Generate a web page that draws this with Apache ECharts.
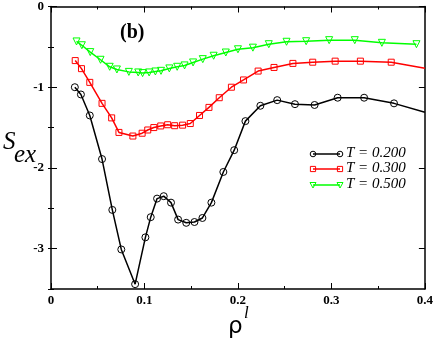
<!doctype html>
<html>
<head>
<meta charset="UTF-8">
<title>S_ex vs rho</title>
<script src="https://cdn.jsdelivr.net/npm/echarts@6/dist/echarts.min.js"></script>
<style>
  html, body { margin: 0; padding: 0; background: #fff; }
  #main { width: 436px; height: 342px; }
</style>
</head>
<body>
<div id="main"></div>
<script type="text/javascript">
// values (x = rho, y = S_ex)
var rhoT200 = [0.0255, 0.032, 0.0415, 0.0546, 0.0656, 0.0752, 0.090, 0.101, 0.1067, 0.1135, 0.1206, 0.1284, 0.136, 0.1447, 0.1535, 0.162, 0.1716, 0.1844, 0.196, 0.208, 0.224, 0.242, 0.261, 0.282, 0.3067, 0.335, 0.367, 0.40];
var sexT200 = [-1.0, -1.09, -1.35, -1.89, -2.52, -3.01, -3.44, -2.86, -2.61, -2.38, -2.35, -2.43, -2.64, -2.68, -2.67, -2.62, -2.43, -2.05, -1.78, -1.42, -1.23, -1.16, -1.21, -1.22, -1.13, -1.13, -1.20, -1.31];

var rhoT300 = [0.0259, 0.0326, 0.0415, 0.0546, 0.0649, 0.0727, 0.0876, 0.0975, 0.1035, 0.110, 0.1174, 0.1248, 0.1323, 0.1408, 0.149, 0.1589, 0.169, 0.180, 0.193, 0.206, 0.2216, 0.2386, 0.2588, 0.280, 0.304, 0.331, 0.364, 0.40];
var sexT300 = [-0.67, -0.77, -0.94, -1.20, -1.38, -1.56, -1.605, -1.57, -1.53, -1.50, -1.48, -1.465, -1.477, -1.47, -1.45, -1.35, -1.25, -1.13, -1.0, -0.91, -0.80, -0.755, -0.705, -0.69, -0.677, -0.677, -0.69, -0.765];

var rhoT500 = [0.0273, 0.033, 0.042, 0.053, 0.0628, 0.0705, 0.0833, 0.0933, 0.098, 0.105, 0.1117, 0.1177, 0.1266, 0.135, 0.1429, 0.152, 0.1624, 0.174, 0.187, 0.2, 0.216, 0.233, 0.252, 0.273, 0.2976, 0.325, 0.354, 0.391];
var sexT500 = [-0.433, -0.48, -0.565, -0.66, -0.747, -0.78, -0.81, -0.817, -0.825, -0.817, -0.805, -0.797, -0.767, -0.747, -0.73, -0.693, -0.652, -0.61, -0.57, -0.53, -0.51, -0.467, -0.437, -0.43, -0.417, -0.417, -0.45, -0.467];

var yTickValues = [-3, -2, -1, 0];
var legendNames = ['T = 0.200', 'T = 0.300', 'T = 0.500'];
var colors = ['#000000', '#ff0000', '#00ff00'];

function pairs(xs, ys, hideLast) {
  var out = [];
  for (var i = 0; i < xs.length; i++) {
    var p = { value: [xs[i], ys[i]] };
    if (hideLast && i === xs.length - 1) p.symbol = 'none';
    out.push(p);
  }
  return out;
}

var serif = 'Liberation Serif';
var tickFont = { fontFamily: serif, fontWeight: 'bold', fontSize: 13, color: '#000' };

function xAxisCfg(pos, show) {
  return {
    type: 'value', position: pos, min: 0, max: 0.4, interval: 0.1,
    axisLine: { show: true, onZero: false, lineStyle: { color: '#000', width: 1.5 } },
    axisTick: { inside: true, length: 6, lineStyle: { color: '#000', width: 1 } },
    minorTick: { show: true, splitNumber: 2, length: 3, lineStyle: { color: '#000' } },
    splitLine: { show: false },
    axisLabel: Object.assign({ show: show, margin: 5,
      formatter: function (v) { return v === 0 ? '0' : String(+v.toFixed(1)); } }, tickFont)
  };
}
// major y axis: integer ticks + labels
function yAxisCfg(pos, show) {
  return {
    type: 'value', position: pos, min: -3.5, max: 0, interval: 0.5,
    axisLine: { show: true, onZero: false, lineStyle: { color: '#000', width: 1.5 } },
    axisTick: { inside: true, length: 6, customValues: yTickValues, lineStyle: { color: '#000', width: 1 } },
    splitLine: { show: false },
    axisLabel: Object.assign({ show: show, margin: 7, customValues: yTickValues,
      formatter: function (v) { return String(Math.round(v)); } }, tickFont)
  };
}
// minor y ticks every 0.5
function yMinorCfg(pos) {
  return {
    type: 'value', position: pos, min: -3.5, max: 0, interval: 0.5,
    axisLine: { show: false },
    axisTick: { show: true, inside: true, length: 3, lineStyle: { color: '#000', width: 1 } },
    splitLine: { show: false },
    axisLabel: { show: false }
  };
}

function seriesCfg(name, data, color, symbol, size, rotate) {
  return {
    name: name, type: 'line', xAxisIndex: 0, yAxisIndex: 0,
    data: data, symbol: symbol, symbolSize: size, symbolRotate: rotate || 0,
    showAllSymbol: true, animation: false,
    lineStyle: { color: color, width: 1.5 },
    itemStyle: { color: 'rgba(0,0,0,0)', borderColor: color, borderWidth: 1 }
  };
}

// hand-drawn legend: line with a marker at each end, italic serif label
var legendY = [154, 169, 185];
var legendSyms = [
  function (x, y, c) { return { type: 'circle', shape: { cx: x, cy: y, r: 2.8 }, style: { fill: 'none', stroke: c, lineWidth: 1 } }; },
  function (x, y, c) { return { type: 'rect', shape: { x: x - 2.6, y: y - 2.6, width: 5.2, height: 5.2 }, style: { fill: 'none', stroke: c, lineWidth: 1 } }; },
  function (x, y, c) { return { type: 'polygon', shape: { points: [[x - 3, y - 2.5], [x + 3, y - 2.5], [x, y + 3]] }, style: { fill: 'none', stroke: c, lineWidth: 1 } }; }
];
var legendEls = [];
for (var i = 0; i < 3; i++) {
  var y = legendY[i];
  legendEls.push({ type: 'line', shape: { x1: 313, y1: y, x2: 340, y2: y }, style: { stroke: colors[i], lineWidth: 1.5 } });
  legendEls.push(legendSyms[i](313, y, colors[i]));
  legendEls.push(legendSyms[i](340, y, colors[i]));
  legendEls.push({ type: 'text', left: 346, top: y - 8,
    style: { text: legendNames[i], font: 'italic 15px "Liberation Serif"', fill: '#000' } });
}

var myChart = echarts.init(document.getElementById('main'));
var option = {
  backgroundColor: '#fff',
  animation: false,
  grid: { left: 51, right: 8, top: 6, bottom: 53 },
  xAxis: [xAxisCfg('bottom', true), xAxisCfg('top', false)],
  yAxis: [yAxisCfg('left', true), yAxisCfg('right', false), yMinorCfg('left'), yMinorCfg('right')],
  series: [
    seriesCfg(legendNames[0], pairs(rhoT200, sexT200, true), colors[0], 'circle', 7),
    seriesCfg(legendNames[1], pairs(rhoT300, sexT300, true), colors[1], 'rect', 6),
    seriesCfg(legendNames[2], pairs(rhoT500, sexT500, false), colors[2], 'triangle', 7, 180)
  ],
  graphic: legendEls.concat([
    { type: 'text', left: 120, top: 23, style: { text: '(b)', font: 'bold 20px "Liberation Serif"', fill: '#000' } },
    { type: 'text', left: 3, top: 130, style: { text: 'S', font: 'italic 25px "Liberation Serif"', fill: '#000' } },
    { type: 'text', left: 14, top: 143, style: { text: 'ex', font: 'italic 25px "Liberation Serif"', fill: '#000' } },
    { type: 'text', left: 228, top: 316, style: { text: 'ρ', font: '23px "DejaVu Sans"', fill: '#000' } },
    { type: 'text', left: 244, top: 305, style: { text: 'l', font: 'italic 17px "Liberation Serif"', fill: '#000' } }
  ])
};
myChart.setOption(option);
</script>
</body>
</html>
